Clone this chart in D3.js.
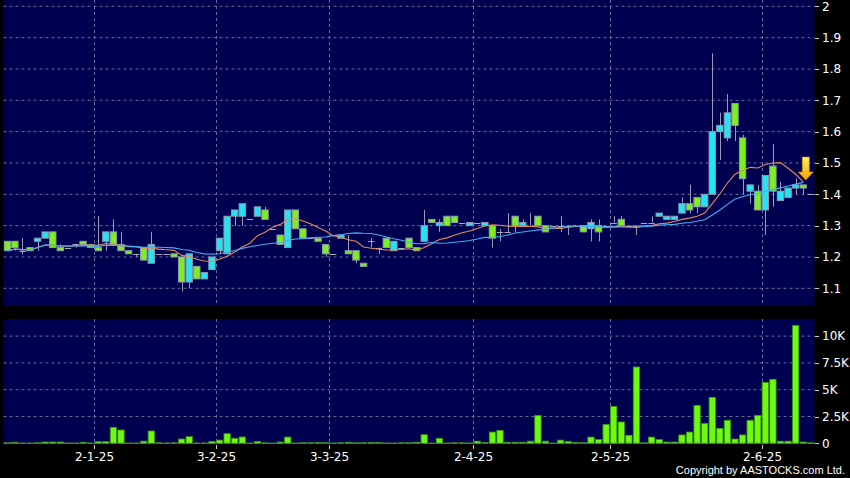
<!DOCTYPE html>
<html><head><meta charset="utf-8">
<script src="https://cdn.jsdelivr.net/npm/d3@7"></script>
<style>html,body{margin:0;padding:0;background:#000;overflow:hidden}svg{display:block}</style>
</head><body>
<svg id="chart" width="850" height="478"></svg>
<script>
// ---- data ----
const opens  = [1.25,1.25,1.22,1.23,1.25,1.26,1.28,1.23,1.23,1.24, 1.25,1.24,1.23,1.25,1.28,1.24,1.22,1.21,1.23,1.18,
                1.21,1.21,1.21,1.20,1.12,1.17,1.13,1.16,1.22,1.21, 1.33,1.33,1.32,1.33,1.35,1.29,1.27,1.23,1.35,1.29,
                1.26,1.26,1.24,1.21,1.26,1.22,1.22,1.18,1.25,1.23, 1.26,1.22,1.23,1.26,1.23,1.25,1.32,1.30,1.33,1.33,
                1.31,1.30,1.31,1.30,1.30,1.28,1.28,1.33,1.30,1.30, 1.33,1.30,1.30,1.30,1.30,1.30,1.30,1.29,1.30,1.30,
                1.31,1.32,1.30,1.30,1.31,1.31,1.33,1.32,1.32,1.34, 1.37,1.39,1.36,1.40,1.60,1.58,1.69,1.58,1.41,1.41,
                1.35,1.49,1.38,1.39,1.42,1.43,1.40];
const highs  = [1.25,1.25,1.26,1.23,1.26,1.28,1.28,1.24,1.23,1.24, 1.25,1.24,1.33,1.28,1.32,1.28,1.22,1.21,1.23,1.28,
                1.21,1.21,1.21,1.20,1.21,1.17,1.15,1.20,1.26,1.33, 1.35,1.37,1.32,1.36,1.36,1.29,1.27,1.35,1.35,1.29,
                1.26,1.26,1.24,1.21,1.27,1.27,1.22,1.18,1.26,1.23, 1.26,1.25,1.23,1.26,1.23,1.35,1.32,1.32,1.33,1.33,
                1.31,1.31,1.31,1.31,1.30,1.29,1.34,1.33,1.32,1.34, 1.33,1.30,1.30,1.33,1.30,1.30,1.30,1.32,1.32,1.30,
                1.33,1.33,1.30,1.30,1.31,1.33,1.34,1.33,1.33,1.39, 1.43,1.39,1.40,1.85,1.66,1.72,1.69,1.59,1.43,1.43,
                1.46,1.56,1.44,1.42,1.45,1.43,1.40];
const lows   = [1.22,1.22,1.21,1.22,1.22,1.26,1.23,1.22,1.23,1.23, 1.24,1.23,1.22,1.22,1.24,1.22,1.21,1.20,1.19,1.18,
                1.21,1.21,1.20,1.09,1.10,1.13,1.13,1.16,1.21,1.21, 1.30,1.30,1.32,1.33,1.32,1.29,1.24,1.23,1.29,1.26,
                1.26,1.25,1.20,1.21,1.26,1.21,1.18,1.17,1.23,1.21, 1.23,1.22,1.23,1.23,1.22,1.25,1.31,1.28,1.30,1.31,
                1.31,1.30,1.31,1.30,1.23,1.25,1.28,1.28,1.30,1.30, 1.30,1.28,1.30,1.28,1.27,1.30,1.28,1.25,1.25,1.30,
                1.31,1.30,1.30,1.27,1.31,1.31,1.33,1.32,1.32,1.34, 1.34,1.34,1.36,1.40,1.51,1.57,1.57,1.40,1.37,1.35,
                1.27,1.36,1.38,1.39,1.40,1.40,1.40];
const closes = [1.22,1.23,1.22,1.22,1.26,1.28,1.23,1.22,1.23,1.24, 1.24,1.23,1.22,1.28,1.24,1.22,1.21,1.21,1.19,1.24,
                1.21,1.21,1.20,1.12,1.21,1.13,1.15,1.20,1.26,1.33, 1.35,1.37,1.32,1.36,1.32,1.29,1.24,1.35,1.29,1.26,
                1.26,1.25,1.21,1.21,1.27,1.21,1.19,1.17,1.25,1.23, 1.23,1.25,1.23,1.23,1.22,1.30,1.31,1.31,1.30,1.31,
                1.31,1.31,1.31,1.31,1.26,1.28,1.28,1.30,1.31,1.30, 1.30,1.28,1.30,1.30,1.30,1.30,1.28,1.31,1.28,1.30,
                1.31,1.30,1.30,1.30,1.31,1.31,1.34,1.33,1.33,1.37, 1.35,1.36,1.40,1.60,1.62,1.66,1.62,1.45,1.43,1.35,
                1.46,1.41,1.41,1.42,1.43,1.42,1.40];
// volume in thousands of shares
const volumes = [0.05,0.10,0.03,0.03,0.05,0.12,0.12,0.12,0.03,0.03, 0.10,0.03,0.15,0.15,1.49,1.24,0.03,0.03,0.20,1.15,
                 0.05,0.03,0.05,0.40,0.62,0.03,0.03,0.17,0.30,0.90, 0.47,0.59,0.03,0.18,0.05,0.02,0.12,0.58,0.03,0.05,
                 0.05,0.07,0.05,0.03,0.05,0.10,0.05,0.05,0.07,0.07, 0.03,0.03,0.05,0.05,0.10,0.80,0.03,0.47,0.03,0.05,
                 0.05,0.03,0.20,0.07,1.05,1.21,0.10,0.10,0.10,0.20, 2.61,0.20,0.03,0.30,0.18,0.08,0.05,0.58,0.35,1.77,
                 3.45,1.99,0.75,7.12,0.05,0.58,0.35,0.12,0.12,0.78, 1.05,3.54,1.86,4.29,1.40,2.15,0.40,0.78,2.15,2.61,
                 5.69,5.97,0.20,0.20,11.0,0.12,0.05];
const monthStartIdx = [12, 28, 43, 62, 80, 100];
const monthLabels = ["2-1-25","3-2-25","3-3-25","2-4-25","2-5-25","2-6-25"];
const priceTicks = [1.1,1.2,1.3,1.4,1.5,1.6,1.7,1.8,1.9,2.0];
const priceTickLabels = ["1.1","1.2","1.3","1.4","1.5","1.6","1.7","1.8","1.9","2"];
const volTicks = [0,2.5,5,7.5,10];
const volTickLabels = ["0","2.5K","5K","7.5K","10K"];
const maPeriods = [10, 20];
const copyright = "Copyright by AASTOCKS.com Ltd.";

// ---- layout ----
const N = closes.length;
const L = 3.5, R = 814.6;
const P = {top:0, bottom:305};
const V = {top:319, bottom:443.3};
const svg = d3.select("#chart");
svg.append("rect").attr("width",850).attr("height",478).attr("fill","#000");

const x = d3.scaleLinear().domain([-0.5, N-0.5]).range([L, R]);
const step = x(1)-x(0);
const bw = step*0.84;
const y = d3.scaleLinear().domain([1.1, 2.0]).range([288.3, 6.3]);
const yv = d3.scaleLinear().domain([0, 10]).range([V.bottom, 336.1]);

const gridCol = "#6c6c9c";
// panels
svg.append("rect").attr("x",L).attr("y",P.top).attr("width",R-L).attr("height",P.bottom-P.top).attr("fill","#000050");
svg.append("rect").attr("x",L).attr("y",V.top).attr("width",R-L).attr("height",V.bottom-V.top).attr("fill","#000050");

// horizontal grid
svg.append("g").selectAll("line").data(priceTicks).join("line")
  .attr("x1",L).attr("x2",R).attr("y1",d=>y(d)).attr("y2",d=>y(d))
  .attr("stroke",gridCol).attr("stroke-dasharray","3,3").attr("stroke-width",1);
svg.append("g").selectAll("line").data(volTicks.slice(1)).join("line")
  .attr("x1",L).attr("x2",R).attr("y1",d=>yv(d)).attr("y2",d=>yv(d))
  .attr("stroke",gridCol).attr("stroke-dasharray","3,3").attr("stroke-width",1);
// vertical month grid
const gx = monthStartIdx.map(i=>Math.round(x(i-0.5))+0.5);
svg.append("g").selectAll("line").data(gx).join("line")
  .attr("x1",d=>d).attr("x2",d=>d).attr("y1",P.top).attr("y2",P.bottom)
  .attr("stroke",gridCol).attr("stroke-dasharray","3,3");
svg.append("g").selectAll("line").data(gx).join("line")
  .attr("x1",d=>d).attr("x2",d=>d).attr("y1",V.top).attr("y2",V.bottom)
  .attr("stroke",gridCol).attr("stroke-dasharray","3,3");

// clip
svg.append("clipPath").attr("id","pc").append("rect").attr("x",L).attr("y",P.top).attr("width",R-L).attr("height",P.bottom-P.top);
const pg = svg.append("g").attr("clip-path","url(#pc)");

const idx = d3.range(N);
const upCol = "#22e4f4", dnCol = "#7cf01c", edge = "#8a9aae", wickCol = "#9c9cb4";
// wicks
pg.append("g").selectAll("line").data(idx.filter(i=>highs[i]>lows[i])).join("line")
  .attr("x1",i=>Math.round(x(i))+0.5).attr("x2",i=>Math.round(x(i))+0.5)
  .attr("y1",i=>y(highs[i])).attr("y2",i=>y(lows[i]))
  .attr("stroke",wickCol).attr("stroke-width",1);
// bodies
pg.append("g").selectAll("rect").data(idx.filter(i=>opens[i]!==closes[i])).join("rect")
  .attr("x",i=>x(i)-bw/2).attr("width",bw)
  .attr("y",i=>y(Math.max(opens[i],closes[i]))).attr("height",i=>Math.abs(y(opens[i])-y(closes[i])))
  .attr("fill",i=>closes[i]>opens[i]?upCol:dnCol).attr("stroke",edge).attr("stroke-width",1);
// flat (doji) marks
pg.append("g").selectAll("line").data(idx.filter(i=>opens[i]===closes[i])).join("line")
  .attr("x1",i=>x(i)-bw/2).attr("x2",i=>x(i)+bw/2)
  .attr("y1",i=>Math.round(y(closes[i]))+0.5).attr("y2",i=>Math.round(y(closes[i]))+0.5)
  .attr("stroke","#a8a8b8").attr("stroke-width",1);

// moving averages of the closes
function sma(n){ return closes.map((c,i)=>{ const s=closes.slice(Math.max(0,i-n+1),i+1); return d3.mean(s); }); }
const maCols = ["#e5875c","#45acf8"];
maPeriods.forEach((n,k)=>{
  const m = sma(n);
  pg.append("path").datum(idx.slice(0,N-1)).attr("fill","none").attr("stroke",maCols[k]).attr("stroke-width",1.1)
    .attr("d", d3.line().x(i=>x(i)).y(i=>y(m[i])));
});

// arrow marker at last price
const defs = svg.append("defs");
const gr = defs.append("linearGradient").attr("id","ag").attr("x1",0).attr("x2",0).attr("y1",0).attr("y2",1);
gr.append("stop").attr("offset","0").attr("stop-color","#fff45a");
gr.append("stop").attr("offset","1").attr("stop-color","#f0a000");
const ax = x(N-1)-5, ay = y(closes[N-2])-8;
svg.append("path").attr("fill","url(#ag)").attr("stroke","#d08a00").attr("stroke-width",0.6)
  .attr("d",`M${ax-3.5},${ay-23}L${ax+3.5},${ay-23}L${ax+3.5},${ay-8}L${ax+7.5},${ay-8}L${ax},${ay}L${ax-7.5},${ay-8}L${ax-3.5},${ay-8}Z`);

// volume bars
svg.append("g").selectAll("rect").data(idx).join("rect")
  .attr("x",i=>x(i)-bw/2).attr("width",bw)
  .attr("y",i=>yv(volumes[i])).attr("height",i=>Math.max(0.5,V.bottom-yv(volumes[i])))
  .attr("fill","#6cfa10").attr("stroke","#3d8f12").attr("stroke-width",0.8);
svg.append("line").attr("x1",L).attr("x2",R).attr("y1",V.bottom).attr("y2",V.bottom).attr("stroke",gridCol).attr("stroke-dasharray","3,3");

// right axes
const font = "DejaVu Sans, Verdana, sans-serif";
const ra = svg.append("g").attr("font-family",font).attr("font-size",12).attr("fill","#fff");
priceTicks.forEach((t,k)=>{
  ra.append("line").attr("x1",815).attr("x2",819).attr("y1",Math.round(y(t))+0.5).attr("y2",Math.round(y(t))+0.5).attr("stroke","#ccc");
  ra.append("text").attr("x",822).attr("y",y(t)).attr("dy","0.36em").text(priceTickLabels[k]);
});
volTicks.forEach((t,k)=>{
  ra.append("line").attr("x1",815).attr("x2",819).attr("y1",Math.round(yv(t))+0.5).attr("y2",Math.round(yv(t))+0.5).attr("stroke","#ccc");
  ra.append("text").attr("x",822).attr("y",yv(t)).attr("dy","0.36em").text(volTickLabels[k]);
});
// bottom axis
const ba = svg.append("g").attr("font-family",font).attr("font-size",12).attr("fill","#fff");
monthStartIdx.forEach((m,k)=>{
  const px = gx[k];
  ba.append("line").attr("x1",px).attr("x2",px).attr("y1",445).attr("y2",449).attr("stroke","#ccc");
  ba.append("text").attr("x",px).attr("y",460.5).attr("text-anchor","middle").text(monthLabels[k]);
});
svg.append("text").attr("x",845).attr("y",474).attr("text-anchor","end").attr("font-family","Liberation Sans, Arial, sans-serif")
  .attr("font-size",11).attr("fill","#fff").text(copyright);
</script>
</body></html>
